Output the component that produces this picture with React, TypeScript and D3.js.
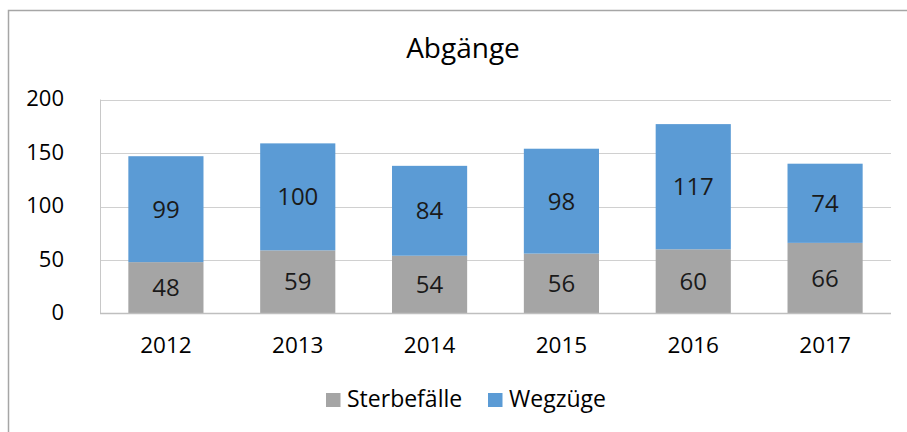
import React from "react";
import * as d3 from "d3";

const years = ["2012", "2013", "2014", "2015", "2016", "2017"];
const sterbefaelle = [48, 59, 54, 56, 60, 66];
const wegzuege = [99, 100, 84, 98, 117, 74];
const yTicks = [0, 50, 100, 150, 200];
const seriesNames = ["Sterbefälle", "Wegzüge"];

const colors = ["#a5a5a5", "#5b9bd5"];
const font = "'Segoe UI', 'Open Sans', 'Noto Sans', sans-serif";

const App = () => {
  const w = 907;
  const h = 432;
  const left = 100;
  const right = 891;
  const top = 99.5;
  const bottom = 313.5;

  const x = d3.scaleBand().domain(years).range([left, right]).paddingInner(0.43).paddingOuter(0.215);
  const y = d3.scaleLinear().domain([0, 200]).range([bottom, top]);

  const stack = d3
    .stack<number>()
    .keys(["s", "w"])
    .value((i, key) => (key === "s" ? sterbefaelle[i] : wegzuege[i]));
  const layers = stack(d3.range(years.length));

  return (
    <div style={{ position: "absolute", left: 0, top: 0 }}>
      <svg width={w} height={h} style={{ display: "block", background: "#fff", fontFamily: font }}>
        <rect x={8.5} y={10.5} width={1000} height={600} fill="#fff" stroke="#a6a6a6" strokeWidth={1.5} />
        <text x={463} y={58} textAnchor="middle" fontSize={28} fill="#000">
          Abgänge
        </text>
        {yTicks.map((t) => (
          <g key={t}>
            {t > 0 && (
              <line x1={left} x2={right} y1={Math.round(y(t)) + 0.5} y2={Math.round(y(t)) + 0.5} stroke="#d0d0d0" strokeWidth={1.2} />
            )}
            <text x={64} y={y(t) + 6.5} textAnchor="end" fontSize={22} fill="#000">
              {t}
            </text>
          </g>
        ))}
        <line x1={left + 0.5} x2={left + 0.5} y1={top} y2={bottom} stroke="#c8c8c8" />
        {layers.map((layer, li) =>
          layer.map((d, i) => (
            <g key={li + "-" + i}>
              <rect
                x={x(years[i])!}
                y={y(d[1])}
                width={x.bandwidth()}
                height={y(d[0]) - y(d[1])}
                fill={colors[li]}
              />
              <text
                x={x(years[i])! + x.bandwidth() / 2}
                y={(y(d[0]) + y(d[1])) / 2 + 8.5}
                textAnchor="middle"
                fontSize={24}
                fill="#1a1a1a"
              >
                {d[1] - d[0]}
              </text>
            </g>
          ))
        )}
        <line x1={left} x2={right} y1={bottom} y2={bottom} stroke="#bfbfbf" strokeWidth={1.5} />
        {years.map((yr) => (
          <text key={yr} x={x(yr)! + x.bandwidth() / 2} y={353} textAnchor="middle" fontSize={22.5} fill="#000">
            {yr}
          </text>
        ))}
        {seriesNames.map((n, i) => (
          <g key={n} transform={`translate(${i === 0 ? 326 : 488},0)`}>
            <rect x={0} y={393} width={14.5} height={14} fill={colors[i]} />
            <text x={21} y={407} fontSize={23} fill="#000">
              {n}
            </text>
          </g>
        ))}
      </svg>
    </div>
  );
};

export default App;
